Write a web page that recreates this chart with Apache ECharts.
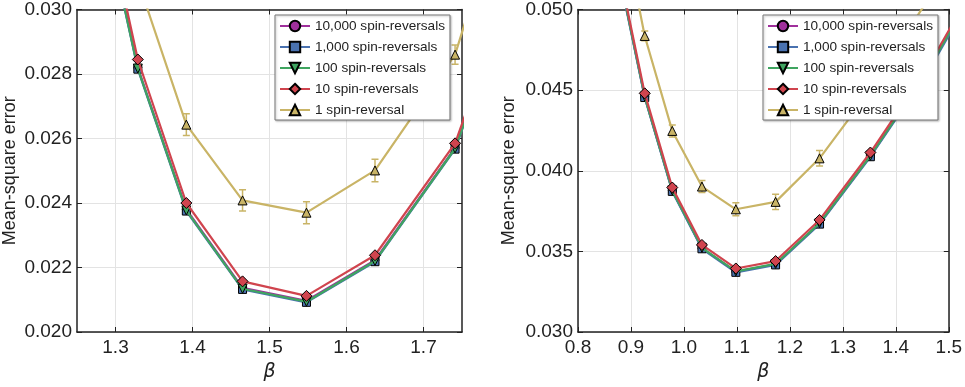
<!DOCTYPE html>
<html><head><meta charset="utf-8">
<script src="https://cdn.jsdelivr.net/npm/echarts@6/dist/echarts.min.js"></script>
<style>html,body{margin:0;padding:0;background:#fff}#c{width:965px;height:387px}</style>
</head><body><div id="c"></div><script>
const seriesNames = ['10,000 spin-reversals','1,000 spin-reversals','100 spin-reversals','10 spin-reversals','1 spin-reversal'];

// Left panel
const betaLeft = [1.27, 1.329, 1.392, 1.465, 1.548, 1.637, 1.741, 1.86];
const left10000 = [0.0347, 0.02820, 0.02380, 0.02137, 0.02097, 0.02223, 0.02571, 0.0337];
const left1000  = [0.0346, 0.02815, 0.02375, 0.02132, 0.02092, 0.02218, 0.02567, 0.0336];
const left100   = [0.0346, 0.02817, 0.02377, 0.02134, 0.02094, 0.02220, 0.02569, 0.0336];
const left10    = [0.0349, 0.02845, 0.02400, 0.02157, 0.02112, 0.02238, 0.02585, 0.0338];
const left1     = [0.0360, 0.03090, 0.02643, 0.02408, 0.02370, 0.02501, 0.02860, 0.0377];
const left1Err  = [0.0003, 0.0003, 0.00034, 0.00033, 0.00034, 0.00035, 0.00030, 0.0003];
const leftXTicks = [1.3, 1.4, 1.5, 1.6, 1.7];

// Right panel
const betaRight = [0.878, 0.926, 0.978, 1.034, 1.098, 1.173, 1.256, 1.352, 1.46, 1.58];
const right10000 = [0.0522, 0.04458, 0.03876, 0.03520, 0.03374, 0.03420, 0.03673, 0.04091, 0.0462, 0.0531];
const right1000  = [0.0521, 0.04454, 0.03872, 0.03516, 0.03370, 0.03416, 0.03669, 0.04087, 0.0461, 0.0530];
const right100   = [0.0522, 0.04460, 0.03878, 0.03522, 0.03376, 0.03422, 0.03675, 0.04093, 0.0462, 0.0531];
const right10    = [0.0524, 0.04480, 0.03896, 0.03540, 0.03394, 0.03440, 0.03695, 0.04113, 0.0464, 0.0533];
const right1     = [0.0563, 0.04836, 0.04247, 0.03902, 0.03761, 0.03807, 0.04077, 0.04500, 0.0506, 0.0580];
const right1Err  = [0.0003, 0.0003, 0.00037, 0.00037, 0.00040, 0.00048, 0.00048, 0.0005, 0.0005, 0.0005];

const colors = ['#a0309c', '#4a72b0', '#3fa560', '#d0444e', '#c9b466'];
const symbols = ['circle', 'rect', 'path://M0,0 L10,0 L5,10 Z', 'diamond', 'triangle'];
const symbolSizes = [8, 8, 9, 11, 9];

const FONT = 'Liberation Sans';

function pairs(xs, ys) { return xs.map((x, i) => [x, ys[i]]); }

function lineSeries(k, xs, ys, xi, yi) {
  return {
    type: 'line', name: seriesNames[k], xAxisIndex: xi, yAxisIndex: yi,
    data: pairs(xs, ys), clip: true, z: 3 + k * 0.1,
    symbol: symbols[k], symbolSize: symbolSizes[k], showSymbol: true,
    lineStyle: { color: colors[k], width: 2.2 },
    itemStyle: { color: colors[k], borderColor: '#000', borderWidth: 1 },
    emphasis: { disabled: true }, animation: false
  };
}

function errSeries(xs, ys, es, xi, yi, color) {
  return {
    type: 'custom', xAxisIndex: xi, yAxisIndex: yi, clip: true, z: 2, silent: true,
    data: xs.map((x, i) => [x, ys[i] - es[i], ys[i] + es[i]]),
    renderItem: function (params, api) {
      const x = api.value(0);
      const p1 = api.coord([x, api.value(1)]);
      const p2 = api.coord([x, api.value(2)]);
      const w = 3.5;
      const st = { stroke: color, lineWidth: 1.5 };
      return { type: 'group', children: [
        { type: 'line', shape: { x1: p1[0], y1: p1[1], x2: p2[0], y2: p2[1] }, style: st },
        { type: 'line', shape: { x1: p1[0] - w, y1: p1[1], x2: p1[0] + w, y2: p1[1] }, style: st },
        { type: 'line', shape: { x1: p2[0] - w, y1: p2[1], x2: p2[0] + w, y2: p2[1] }, style: st }
      ]};
    },
    animation: false
  };
}

const axisLineStyle = { show: true, lineStyle: { color: '#222', width: 1.5 } };
const tickStyle = { show: true, inside: true, length: 5, lineStyle: { color: '#222', width: 1 } };
const gridLine = { show: true, lineStyle: { color: '#e3e3e3', width: 1 } };
const labelStyle = { color: '#222', fontSize: 19, fontFamily: FONT };

function xAxisDef(grid, min, max, interval, custom, showLabels, pos) {
  const a = {
    type: 'value', gridIndex: grid, min: min, max: max, position: pos,
    axisLine: axisLineStyle,
    axisTick: Object.assign({}, tickStyle),
    axisLabel: Object.assign({ show: showLabels, margin: 6, formatter: v => v.toFixed(1) }, labelStyle),
    splitLine: showLabels ? Object.assign({}, gridLine) : { show: false }
  };
  if (custom) {
    a.axisTick.customValues = custom;
    a.axisLabel.customValues = custom;
    if (showLabels) a.splitLine.customValues = custom;
    a.interval = 0.05;
  } else {
    a.interval = interval;
  }
  if (showLabels) {
    a.name = 'β';
    a.nameLocation = 'middle';
    a.nameGap = 31;
    a.nameTextStyle = { fontSize: 19, fontStyle: 'italic', fontFamily: 'DejaVu Sans', color: '#222' };
  }
  return a;
}

function yAxisDef(grid, min, max, interval, showLabels, pos, gap) {
  const a = {
    type: 'value', gridIndex: grid, min: min, max: max, interval: interval, position: pos,
    axisLine: axisLineStyle, axisTick: tickStyle,
    axisLabel: Object.assign({ show: showLabels, margin: 5, formatter: v => v.toFixed(3) }, labelStyle),
    splitLine: showLabels ? gridLine : { show: false }
  };
  if (showLabels) {
    a.name = 'Mean-square error';
    a.nameLocation = 'middle';
    a.nameGap = gap;
    a.nameTextStyle = { fontSize: 18, fontFamily: FONT, color: '#222' };
  }
  return a;
}

const legendBase = {
  orient: 'vertical', data: seriesNames, itemWidth: 30, itemHeight: 13, itemGap: 7,
  itemTextGap: 10, padding: [4, 5, 3, 4], backgroundColor: '#fff',
  borderColor: '#777', borderWidth: 1, borderRadius: 0,
  shadowColor: 'rgba(0,0,0,0.25)', shadowBlur: 2, shadowOffsetX: 1, shadowOffsetY: 1,
  textStyle: { fontSize: 13.6, fontFamily: FONT, color: '#222' }, selectedMode: false
};

const series = [];
const leftData = [left10000, left1000, left100, left10, left1];
const rightData = [right10000, right1000, right100, right10, right1];
series.push(errSeries(betaLeft, left1, left1Err, 0, 0, colors[4]));
series.push(errSeries(betaRight, right1, right1Err, 2, 2, colors[4]));
for (let k = 0; k < 5; k++) series.push(lineSeries(k, betaLeft, leftData[k], 0, 0));
for (let k = 0; k < 5; k++) series.push(lineSeries(k, betaRight, rightData[k], 2, 2));

const option = {
  animation: false,
  backgroundColor: '#fff',
  textStyle: { fontFamily: FONT },
  grid: [
    { left: 77, top: 9, width: 385, height: 329.5 },
    { left: 578, top: 8, width: 374, height: 331 }
  ],
  xAxis: [
    xAxisDef(0, 1.25, 1.75, 0.1, leftXTicks, true, 'bottom'),
    xAxisDef(0, 1.25, 1.75, 0.1, leftXTicks, false, 'top'),
    xAxisDef(1, 0.8, 1.5, 0.1, null, true, 'bottom'),
    xAxisDef(1, 0.8, 1.5, 0.1, null, false, 'top')
  ],
  yAxis: [
    yAxisDef(0, 0.020, 0.030, 0.002, true, 'left', 58),
    yAxisDef(0, 0.020, 0.030, 0.002, false, 'right', 0),
    yAxisDef(1, 0.030, 0.050, 0.005, true, 'left', 60),
    yAxisDef(1, 0.030, 0.050, 0.005, false, 'right', 0)
  ],
  legend: [
    Object.assign({ left: 275, top: 15 }, legendBase),
    Object.assign({ left: 763, top: 15 }, legendBase)
  ],
  series: series
};
const chart = echarts.init(document.getElementById('c'), null, { renderer: 'canvas' });
chart.setOption(option);
</script></body></html>
